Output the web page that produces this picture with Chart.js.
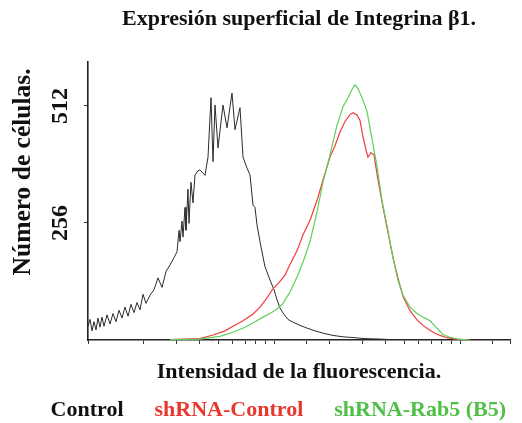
<!DOCTYPE html>
<html>
<head>
<meta charset="utf-8">
<title>Integrina β1</title>
<script src="https://cdn.jsdelivr.net/npm/chart.js@4.4.1/dist/chart.umd.min.js"></script>
<style>
  body { margin: 0; background: #fff; }
  #chart { display: block; }
</style>
</head>
<body>
<canvas id="chart" width="522" height="423"></canvas>
<script>
// values: x = fluorescence (log axis), y = cell count
const ctrlX = [1, 1.025, 1.051, 1.077, 1.104, 1.132, 1.160, 1.189, 1.219, 1.265, 1.313, 1.363, 1.414, 1.468, 1.524, 1.581, 1.641, 1.703, 1.767, 1.834,
  1.904, 1.976, 2.050, 2.154, 2.264, 2.379, 2.500, 2.627, 2.760, 2.900, 3.010, 3.086, 3.124, 3.202, 3.242, 3.323, 3.364, 3.448, 3.491, 3.578,
  3.668, 3.760, 3.903, 4.001, 4.152, 4.256, 4.418, 4.585, 4.700, 4.818, 5.000, 5.318, 5.588, 5.946, 6.171, 6.565, 6.813, 7.159, 7.430, 7.711,
  7.904, 8.103, 8.410, 8.621, 8.947, 9.171, 9.517, 10.0, 10.38, 10.77, 11.18, 11.89, 12.65, 13.80, 15.05, 16.61, 18.34, 20.76, 23.49, 27.26,
  30.86, 37.15, 47.59, 68.99, 100, 185.7];
const ctrlY = [30, 45, 20, 40, 22, 48, 28, 50, 30, 55, 35, 58, 40, 65, 48, 72, 52, 78, 60, 82,
  66, 100, 80, 98, 110, 136, 115, 150, 164, 180, 193, 240, 215, 260, 225, 290, 240, 330, 255, 345,
  300, 361, 370, 372, 365, 360, 400, 530, 390, 514, 420, 514, 464, 540, 460, 508, 400, 376, 361, 295,
  290, 252, 215, 193, 160, 149, 131, 110, 88, 70, 59, 45, 39, 32, 26, 20, 15, 10, 7, 5,
  3, 2, 0, 0, 0, 0];

const shCtrlX = [2.760, 4.001, 4.700, 5.452, 6.020, 6.813, 7.711, 8.410, 9.171, 9.877, 10.77, 11.46, 12.19, 13.30, 14.32, 15.62, 17.03, 18.34, 20.00, 21.28,
  22.64, 24.08, 25.63, 26.59, 27.94, 29.00, 30.10, 31.24, 32.02, 33.23, 34.48, 36.23, 38.55, 41.02, 43.63, 46.42, 49.38, 53.84, 58.72, 63.25,
  67.29, 72.48, 78.07, 85.14, 94.00, 113.2];
const shCtrlY = [1, 3, 11, 20, 30, 42, 57, 72, 92, 112, 128, 142, 165, 195, 230, 262, 305, 350, 400, 425,
  455, 478, 493, 497, 492, 480, 444, 415, 400, 410, 405, 350, 290, 235, 180, 135, 95, 64, 44, 32,
  24, 16, 10, 5, 2, 0];

const rab5X = [2.760, 4.001, 5.125, 6.020, 6.985, 7.904, 8.726, 9.517, 10.38, 11.18, 12.19, 13.30, 14.32, 15.62, 17.03, 18.34, 20.00, 21.82, 23.49, 25.00,
  26.27, 27.26, 28.29, 29.72, 31.62, 33.64, 35.79, 38.08, 40.51, 43.63, 46.42, 49.38, 53.84, 58.72, 63.25, 68.99, 74.30, 81.02, 88.35, 97.56,
  113.2];
const rab5Y = [1, 2, 8, 17, 28, 40, 50, 58, 68, 80, 105, 138, 170, 215, 280, 345, 405, 470, 510, 530,
  548, 558, 550, 530, 500, 440, 380, 305, 250, 180, 130, 98, 72, 58, 50, 42, 28, 12, 6, 2,
  0];

const seriesNames = ['Control', 'shRNA-Control', 'shRNA-Rab5 (B5)'];
const yTicks = [256, 512];
const xMin = 1;
const xMax = 185.7;
const yMax = 608;

const lineColors = ['#2b2b2b', '#f23b3b', '#5fcf5a'];
const legendColors = ['#111111', '#e8382e', '#4fbf45'];
const serif = '"Liberation Serif", "Times New Roman", serif';

function points(xs, ys) {
  return xs.map((x, i) => ({ x: x, y: ys[i] }));
}

const ctx = document.getElementById('chart').getContext('2d');
new Chart(ctx, {
  type: 'line',
  data: {
    datasets: [
      { label: seriesNames[2], data: points(rab5X, rab5Y), borderColor: lineColors[2], borderWidth: 1.2 },
      { label: seriesNames[1], data: points(shCtrlX, shCtrlY), borderColor: lineColors[1], borderWidth: 1.2 },
      { label: seriesNames[0], data: points(ctrlX, ctrlY), borderColor: lineColors[0], borderWidth: 1 }
    ]
  },
  options: {
    responsive: false,
    animation: false,
    elements: { point: { radius: 0 }, line: { tension: 0 } },
    layout: { padding: { left: 0, right: 12, top: 0, bottom: -8 } },
    plugins: {
      tooltip: { enabled: false },
      title: {
        display: true,
        fullSize: false,
        text: 'Expresión superficial de Integrina β1.',
        color: '#111',
        font: { family: serif, size: 22, weight: 'bold' },
        padding: { top: 6, bottom: 29.6 }
      },
      legend: {
        position: 'bottom',
        align: 'end',
        labels: {
          boxWidth: 16,
          padding: 4,
          font: { family: serif, size: 22, weight: 'bold' },
          generateLabels: chart => seriesNames.map((name, i) => ({
            text: name,
            fontColor: legendColors[i],
            fillStyle: 'rgba(0,0,0,0)',
            strokeStyle: 'rgba(0,0,0,0)',
            lineWidth: 0,
            datasetIndex: 2 - i
          }))
        }
      }
    },
    scales: {
      x: {
        type: 'logarithmic',
        min: xMin,
        max: xMax,
        grid: { drawOnChartArea: false, drawTicks: true, tickLength: 4, color: '#333' },
        border: { color: '#222', width: 1.6 },
        ticks: { display: false },
        title: {
          display: true,
          text: 'Intensidad de la fluorescencia.',
          color: '#111',
          font: { family: serif, size: 22, weight: 'bold' },
          padding: { top: 14.8, bottom: 9.8 }
        }
      },
      y: {
        min: 0,
        max: yMax,
        afterBuildTicks: scale => { scale.ticks = yTicks.map(v => ({ value: v })); },
        afterFit: scale => { scale.width = 88; },
        grid: { drawOnChartArea: false, tickLength: 4, color: '#333' },
        border: { color: '#222', width: 1.6 },
        ticks: {
          color: '#111',
          font: { family: serif, size: 24, weight: 'bold' },
          minRotation: 90,
          maxRotation: 90,
          crossAlign: 'center',
          padding: 5
        },
        title: {
          display: true,
          text: 'Número de células. ',
          align: 'end',
          color: '#111',
          font: { family: serif, size: 25.5, weight: 'bold' },
          padding: { top: 8, bottom: 0 }
        }
      }
    }
  }
});
</script>
</body>
</html>
